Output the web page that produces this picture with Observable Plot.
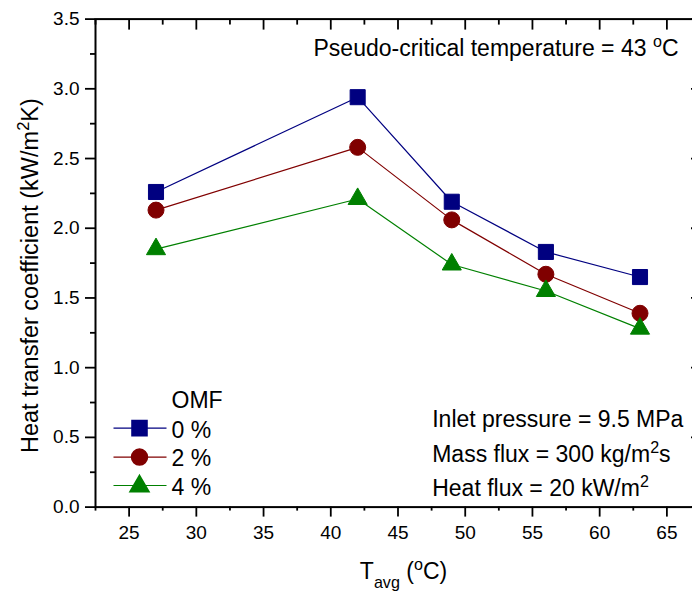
<!DOCTYPE html>
<html><head><meta charset="utf-8">
<script src="https://cdn.jsdelivr.net/npm/d3@7"></script>
<script src="https://cdn.jsdelivr.net/npm/@observablehq/plot@0.6"></script>
<style>body{margin:0;background:#fff;} #chart svg{display:block;}</style>
</head><body><div id="chart"></div>
<script>
// ---- data ----
const temps = [27, 42, 49, 56, 63];
const omf0 = [2.26, 2.94, 2.19, 1.83, 1.65];
const omf2 = [2.13, 2.58, 2.06, 1.67, 1.39];
const omf4 = [1.85, 2.21, 1.74, 1.55, 1.28];
const seriesNames = ["0 %", "2 %", "4 %"];
const seriesColors = ["#000080", "#800000", "#008000"];
const seriesSymbols = ["square", "circle", "triangle"];
const xMajorTicks = [25, 30, 35, 40, 45, 50, 55, 60, 65];
const xMinorTicks = [22.5, 27.5, 32.5, 37.5, 42.5, 47.5, 52.5, 57.5, 62.5, 67.5];
const yMajorTicks = [0, 0.5, 1.0, 1.5, 2.0, 2.5, 3.0, 3.5];
const yMinorTicks = [0.25, 0.75, 1.25, 1.75, 2.25, 2.75, 3.25];
const legendTitle = "OMF";
const notes = ["Inlet pressure = 9.5 MPa", "Mass flux = 300 kg/m^{2}s", "Heat flux = 20 kW/m^{2}"];
const topNote = "Pseudo-critical temperature = 43 ^{o}C";
const xTitle = "T_{avg} (^{o}C)";
const yTitle = "Heat transfer coefficient (kW/m^{2}K)";

const seriesValues = [omf0, omf2, omf4];
const rows = [];
seriesValues.forEach((vals, i) => vals.forEach((v, j) => rows.push({series: seriesNames[i], t: temps[j], h: v})));

const symR = [8.5, 8, 7.1];
const legendLine = {draw(ctx) { ctx.moveTo(-26.5, 0); ctx.lineTo(26.5, 0); }};
const FONT = "'Liberation Sans', Arial, sans-serif";

const marks = [];
// axes
const axisCommon = {stroke: "black", strokeWidth: 1.8, fill: "black", label: null};
marks.push(Plot.axisY(yMajorTicks, {...axisCommon, anchor: "left", tickSize: 10, tickPadding: 6, tickFormat: d3.format(".1f"), fontSize: 19}));
marks.push(Plot.axisY(yMinorTicks, {...axisCommon, anchor: "left", tickSize: 5, tickFormat: () => ""}));
marks.push(Plot.axisY(yMajorTicks, {...axisCommon, anchor: "right", tickSize: -10, tickFormat: () => ""}));
marks.push(Plot.axisY(yMinorTicks, {...axisCommon, anchor: "right", tickSize: -5, tickFormat: () => ""}));
marks.push(Plot.axisX(xMajorTicks, {...axisCommon, anchor: "bottom", tickSize: 10, tickPadding: 8, tickFormat: d => String(d), fontSize: 19}));
marks.push(Plot.axisX(xMinorTicks, {...axisCommon, anchor: "bottom", tickSize: 4, tickFormat: () => ""}));
marks.push(Plot.axisX(xMajorTicks, {...axisCommon, anchor: "top", tickSize: -10, tickFormat: () => ""}));
marks.push(Plot.axisX(xMinorTicks, {...axisCommon, anchor: "top", tickSize: -5, tickFormat: () => ""}));
marks.push(Plot.frame({stroke: "black", strokeWidth: 2}));

// series
seriesNames.forEach((name, i) => {
  const d = rows.filter(r => r.series === name);
  marks.push(Plot.line(d, {x: "t", y: "h", stroke: seriesColors[i], strokeWidth: 1.2}));
  marks.push(Plot.dot(d, {x: "t", y: "h", symbol: seriesSymbols[i], r: symR[i], fill: seriesColors[i], stroke: seriesColors[i], strokeWidth: 1}));
});

// legend
const legendDy = [-79, -50, -21];
const legendTextDy = [-76.6, -48, -19.8];
seriesNames.forEach((name, i) => {
  marks.push(Plot.dot([name], {frameAnchor: "bottom-left", dx: 44.5, dy: legendDy[i] - (i === 2 ? 0.6 : 0), symbol: legendLine, stroke: seriesColors[i], strokeWidth: 1.2, fill: "none"}));
  marks.push(Plot.dot([name], {frameAnchor: "bottom-left", dx: 44, dy: legendDy[i] + (i === 2 ? 0.2 : 0), symbol: seriesSymbols[i], r: symR[i], fill: seriesColors[i], stroke: seriesColors[i]}));
  marks.push(Plot.text([name], {frameAnchor: "bottom-left", dx: 76, dy: legendTextDy[i], text: d => d, textAnchor: "start", lineAnchor: "middle", fontSize: 23, fill: "black"}));
});
marks.push(Plot.text([legendTitle], {frameAnchor: "bottom-left", dx: 76, dy: -106.6, text: d => d, textAnchor: "start", lineAnchor: "middle", fontSize: 23, fill: "black"}));

// notes
const noteDy = [-87.3, -52.6, -18.9];
notes.forEach((n, i) => marks.push(Plot.text([n], {frameAnchor: "bottom-left", dx: 336.7, dy: noteDy[i], text: d => d, textAnchor: "start", lineAnchor: "middle", fontSize: 23, fill: "black"})));
marks.push(Plot.text([topNote], {frameAnchor: "top-left", dx: 218, dy: 30, text: d => d, textAnchor: "start", lineAnchor: "middle", fontSize: 23, fill: "black"}));

// axis titles
marks.push(Plot.text([xTitle], {frameAnchor: "bottom", dx: 5.5, dy: 65, text: d => d, textAnchor: "middle", lineAnchor: "middle", fontSize: 23, fill: "black"}));
marks.push(Plot.text([yTitle], {frameAnchor: "left", dx: -65, dy: 12.5, rotate: -90, text: d => d, textAnchor: "middle", lineAnchor: "middle", fontSize: 23.5, fill: "black"}));

const chart = Plot.plot({
  width: 692,
  height: 591,
  marginLeft: 95,
  marginRight: -8,
  marginTop: 18.6,
  marginBottom: 591 - 506.6,
  x: {domain: [22.5, 67.5], axis: null, label: null},
  y: {domain: [0, 3.5], axis: null, label: null},
  style: {fontFamily: FONT, fontSize: "19px", color: "black", background: "white"},
  marks
});

// rich text: ^{..} superscript, _{..} subscript
d3.select(chart).selectAll("text").each(function() {
  const t = this.textContent;
  if (!/[\^_]\{/.test(t)) return;
  const sel = d3.select(this);
  sel.text(null);
  const re = /([\^_])\{([^}]*)\}/g;
  let last = 0, m;
  while ((m = re.exec(t))) {
    if (m.index > last) sel.append("tspan").text(t.slice(last, m.index));
    sel.append("tspan").attr("baseline-shift", m[1] === "^" ? "super" : "sub").attr("font-size", "70%").text(m[2]);
    last = re.lastIndex;
  }
  if (last < t.length) sel.append("tspan").text(t.slice(last));
});

document.getElementById("chart").appendChild(chart);
</script>
</body></html>
